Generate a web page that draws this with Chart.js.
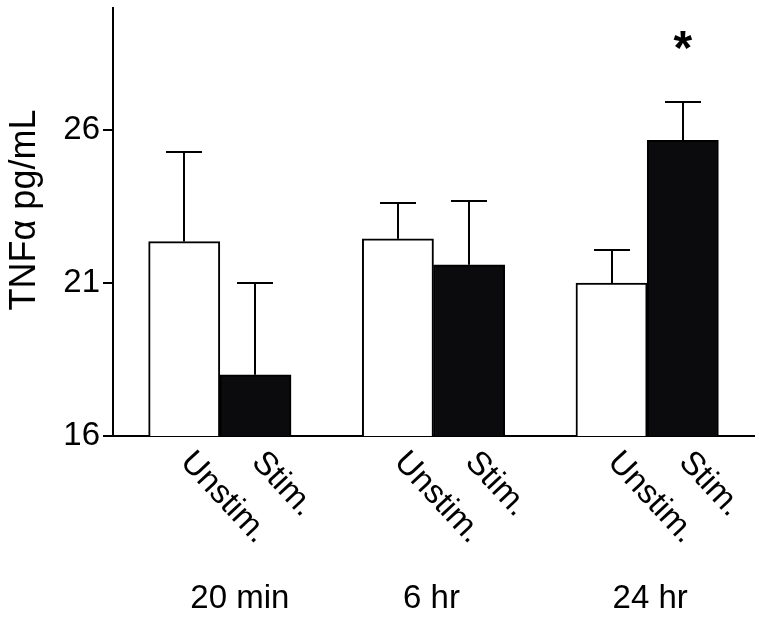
<!DOCTYPE html>
<html>
<head>
<meta charset="utf-8">
<script src="https://cdn.jsdelivr.net/npm/chart.js@4/dist/chart.umd.min.js"></script>
<style>
  html, body { margin: 0; padding: 0; background: #fff; }
</style>
</head>
<body>
<canvas id="chart" width="764" height="618"></canvas>
<script>
// data
const conditions = ['Unstim.', 'Stim.', 'Unstim.', 'Stim.', 'Unstim.', 'Stim.'];
const timepoints = ['20 min', '6 hr', '24 hr'];
const barPositions = [1, 2, 4, 5, 7, 8];
const means = [22.36, 18.0, 22.45, 21.6, 21.0, 25.67];
const sem = [2.92, 3.0, 1.18, 2.1, 1.07, 1.27];
const significant = [false, false, false, false, false, true];
const yTicks = [16, 21, 26];

const FONT = "'Liberation Sans', Arial, sans-serif";

const extras = {
  id: 'extras',
  afterDatasetsDraw(chart) {
    const { ctx, scales: { x, y } } = chart;
    ctx.save();
    ctx.strokeStyle = '#000';
    ctx.lineWidth = 2;
    barPositions.forEach((p, i) => {
      const cx = Math.round(x.getPixelForValue(p));
      const y0 = y.getPixelForValue(means[i]);
      const y1 = Math.round(y.getPixelForValue(means[i] + sem[i]));
      ctx.beginPath();
      ctx.moveTo(cx, y0);
      ctx.lineTo(cx, y1);
      ctx.moveTo(cx - 18, y1);
      ctx.lineTo(cx + 18, y1);
      ctx.stroke();
    });
    ctx.restore();
  },
  afterDraw(chart) {
    const { ctx, scales: { x, y } } = chart;
    ctx.save();
    ctx.fillStyle = '#000';

    // slanted condition labels
    ctx.font = '33px ' + FONT;
    ctx.textAlign = 'left';
    ctx.textBaseline = 'alphabetic';
    barPositions.forEach((p, i) => {
      const cx = x.getPixelForValue(p);
      ctx.save();
      ctx.translate(cx - 5, y.bottom + 27);
      ctx.rotate(47 * Math.PI / 180);
      ctx.fillText(conditions[i], 0, 0);
      ctx.restore();
    });

    // time point labels under each pair
    const shift = [20, -2, 3];
    ctx.textAlign = 'center';
    timepoints.forEach((t, g) => {
      const cx = (x.getPixelForValue(barPositions[g * 2]) + x.getPixelForValue(barPositions[g * 2 + 1])) / 2;
      ctx.fillText(t, cx + shift[g], 608);
    });

    // significance marks
    ctx.font = 'bold 48px ' + FONT;
    significant.forEach((s, i) => {
      if (!s) return;
      ctx.fillText('*', x.getPixelForValue(barPositions[i]), 64);
    });

    // y axis title
    ctx.font = '36px ' + FONT;
    ctx.translate(35, 210);
    ctx.rotate(-Math.PI / 2);
    ctx.textBaseline = 'alphabetic';
    ctx.fillText('TNFα pg/mL', 0, 0);
    ctx.restore();
  }
};

new Chart(document.getElementById('chart'), {
  type: 'bar',
  data: {
    datasets: [{
      data: barPositions.map((p, i) => ({ x: p, y: means[i] })),
      backgroundColor: conditions.map(c => c === 'Stim.' ? '#0b0a0d' : '#ffffff'),
      borderColor: '#000',
      borderWidth: 2,
      barPercentage: 1,
      categoryPercentage: 1
    }]
  },
  options: {
    responsive: false,
    animation: false,
    devicePixelRatio: 1,
    layout: { padding: { top: 8, right: 10 } },
    plugins: { legend: { display: false }, tooltip: { enabled: false } },
    scales: {
      x: {
        type: 'linear',
        offset: false,
        min: 0,
        max: 9,
        ticks: { display: false, stepSize: 1 },
        grid: { display: false, offset: false },
        border: { color: '#000', width: 2 },
        afterFit(s) { s.height = 182; }
      },
      y: {
        min: 16,
        max: 30,
        afterBuildTicks(s) { s.ticks = yTicks.map(v => ({ value: v })); },
        ticks: { color: '#000', padding: 3, font: { size: 33, family: FONT } },
        grid: { drawOnChartArea: false, drawTicks: true, tickLength: 10, color: '#000', lineWidth: 2 },
        border: { color: '#000', width: 2 },
        afterFit(s) { s.width = 113; s.paddingTop = 0; s.paddingBottom = 0; }
      }
    }
  },
  plugins: [extras]
});
</script>
</body>
</html>
